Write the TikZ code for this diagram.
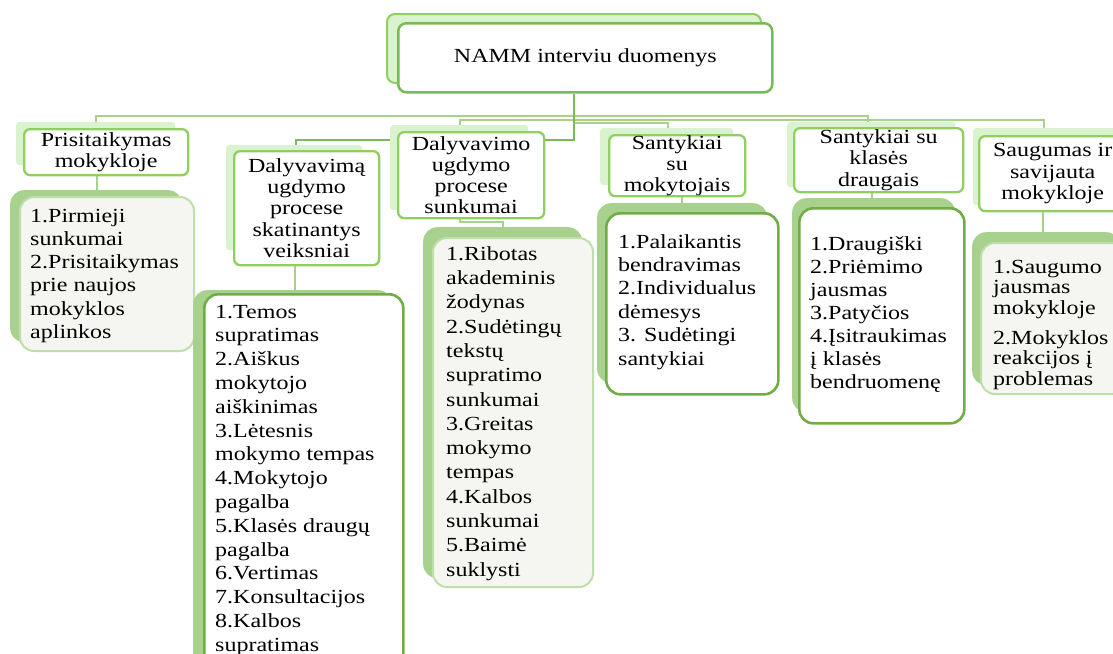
\documentclass[tikz,border=0pt]{standalone}
\usepackage{fontspec}
\setmainfont{Liberation Serif}[FakeStretch=1.2]

\pgfdeclarelayer{bg}
\pgfdeclarelayer{paper}
\pgfsetlayers{paper,bg,main}

\definecolor{catshade}{HTML}{DAF3CF}
\definecolor{catline}{HTML}{8FCF5F}
\definecolor{topline}{HTML}{78BA56}
\definecolor{itemshade}{HTML}{A9D18E}
\definecolor{itemdark}{HTML}{70AD47}
\definecolor{itemlight}{HTML}{BFDFAA}
\definecolor{itemfill}{HTML}{F5F6F1}
\definecolor{linkline}{HTML}{A9D18E}
\definecolor{trunkline}{HTML}{7DB95A}

% box from its top-left (x1,y1) to bottom-right (x2,y2), in pixel units
% #1 name, #2 style, #3 x1, #4 y1, #5 x2, #6 y2, #7 text
\newcommand\mypanel[7]{%
  \node[#2, anchor=north west, inner sep=0pt,
        minimum width=#5pt-#3pt, minimum height=#6pt-#4pt] (#1) at (#3,#4) {#7};}

\begin{document}
\begin{tikzpicture}[x=1pt, y=-1pt,
  headshadow/.style={fill=catshade, draw=catline, line width=2pt, rounded corners=8pt},
  headbox/.style={fill=white, draw=topline, line width=2.5pt, rounded corners=8pt,
                  font=\fontsize{20}{24}\selectfont},
  catshadow/.style={fill=catshade, rounded corners=3pt},
  catbox/.style={fill=white, draw=catline, line width=2.3pt, rounded corners=6pt,
                 align=center, font=\fontsize{20}{21.3}\selectfont},
  itemshadow/.style={fill=itemshade, rounded corners=14pt},
  itemdarkbox/.style={fill=white, draw=itemdark, line width=2.6pt, rounded corners=14pt},
  itemlightbox/.style={fill=itemfill, draw=itemlight, line width=2pt, rounded corners=14pt},
  itemtext/.style={anchor=north west, inner sep=0pt, align=left,
                   font=\fontsize{20}{#1}\selectfont},
  link/.style={draw=linkline, line width=2pt},
  trunk/.style={draw=trunkline, line width=2pt}]

\useasboundingbox (0,0) rectangle (1113,653);
\begin{pgfonlayer}{paper}
  \fill[white] (0,0) rectangle (1113,653);
\end{pgfonlayer}
\clip (0,0) rectangle (1113,653);

% root
\mypanel{tops}{headshadow}{386}{13}{760}{82}{}
\mypanel{top}{headbox}{397}{22}{771}{91}{NAMM interviu duomenys}

% categories
\mypanel{C1s}{catshadow}{16}{122}{175}{165}{}
\mypanel{C1}{catbox}{23}{128}{187}{174}{Prisitaikymas\\mokykloje}
\mypanel{C2s}{catshadow}{226}{145}{362}{250}{}
\mypanel{C2}{catbox}{233}{150}{378}{264}{Dalyvavimą\\ugdymo\\procese\\skatinantys\\veiksniai}
\mypanel{C3s}{catshadow}{390}{125}{528}{210}{}
\mypanel{C3}{catbox}{397}{131}{543}{217}{Dalyvavimo\\ugdymo\\procese\\sunkumai}
\mypanel{C4s}{catshadow}{600}{128}{733}{185}{}
\mypanel{C4}{catbox}{608}{134}{744}{195}{Santykiai\\su\\mokytojais}
\mypanel{C5s}{catshadow}{787}{122}{955}{187}{}
\mypanel{C5}{catbox}{793}{127}{962}{191}{Santykiai su\\klasės\\draugais}
\mypanel{C6s}{catshadow}{973}{128}{1120}{205}{}
\mypanel{C6}{catbox}{978}{135}{1125}{210}{Saugumas ir\\savijauta\\mokykloje}

% item lists
\mypanel{K1s}{itemshadow}{10}{190}{182}{342}{}
\mypanel{K1}{itemlightbox}{19}{196}{193}{350}{}
\node[itemtext=23.2] (K1t) at (30,205.8)
  {\strut 1.Pirmieji\\sunkumai\\2.Prisitaikymas\\prie naujos\\mokyklos\\aplinkos};

\mypanel{K2s}{itemshadow}{193}{290}{392}{670}{}
\mypanel{K2}{itemdarkbox}{203}{293}{402}{670}{}
\node[itemtext=23.8] (K2t) at (215,301.3)
  {\strut 1.Temos\\supratimas\\2.Aiškus\\mokytojo\\aiškinimas\\3.Lėtesnis\\mokymo tempas\\4.Mokytojo\\pagalba\\5.Klasės draugų\\pagalba\\6.Vertimas\\7.Konsultacijos\\8.Kalbos\\supratimas};

\mypanel{K3s}{itemshadow}{423}{227}{582}{578}{}
\mypanel{K3}{itemlightbox}{432}{237}{592}{586}{}
\node[itemtext=24.3] (K3t) at (446,243)
  {\strut 1.Ribotas\\akademinis\\žodynas\\2.Sudėtingų\\tekstų\\supratimo\\sunkumai\\3.Greitas\\mokymo\\tempas\\4.Kalbos\\sunkumai\\5.Baimė\\suklysti};

\mypanel{K4s}{itemshadow}{597}{203}{767}{383}{}
\mypanel{K4}{itemdarkbox}{605}{212}{777}{393}{}
\node[itemtext=23.4] (K4t) at (618,231.6)
  {\strut 1.Palaikantis\\bendravimas\\2.Individualus\\dėmesys\\3. Sudėtingi\\santykiai};

\mypanel{K5s}{itemshadow}{792}{198}{955}{412}{}
\mypanel{K5}{itemdarkbox}{798}{207}{963}{422}{}
\node[itemtext=23] (K5t) at (810,233.9)
  {\strut 1.Draugiški\\2.Priėmimo\\jausmas\\3.Patyčios\\4.Įsitraukimas\\į klasės\\bendruomenę};

\mypanel{K6s}{itemshadow}{972}{232}{1120}{385}{}
\mypanel{K6}{itemlightbox}{980}{242}{1125}{393}{}
\node[itemtext=20.5] (K6t) at (993,258.6)
  {\strut 1.Saugumo\\jausmas\\mokykloje\\[9.5pt]2.Mokyklos\\reakcijos į\\problemas};

% connectors, behind the boxes
\begin{pgfonlayer}{bg}
  \draw[link] (C1s.north -| 96,0) -- (96,116) -- (868,116) -- (C5s.north -| 868,0);
  \draw[link] (C3s.north -| 460,0) -- (460,120) -- (1044,120) -- (C6s.north -| 1044,0);
  \draw[link] (574,123) -- (668,123) -- (C4s.north -| 668,0);
  \draw[trunk] (top.south -| 574,0) -- (574,140) -- (296,140) -- (C2s.north -| 296,0);

  \draw[link] (C1.south -| 97,0) -- (K1s.north -| 97,0);
  \draw[link] (C2.south -| 295,0) -- (K2s.north -| 295,0);
  \draw[link] (C3.south -| 460,0) -- (460,222) -- (503,222) -- (K3s.north -| 503,0);
  \draw[link] (C4.south -| 682,0) -- (K4s.north -| 682,0);
  \draw[link] (C5.south -| 872,0) -- (K5s.north -| 872,0);
  \draw[link] (C6.south -| 1043,0) -- (K6s.north -| 1043,0);
\end{pgfonlayer}
\end{tikzpicture}
\end{document}
